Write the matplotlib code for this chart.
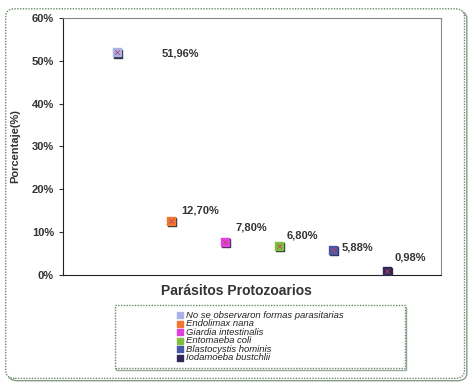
import matplotlib
matplotlib.use("Agg")
import matplotlib.pyplot as plt
from matplotlib.patches import FancyBboxPatch, Rectangle
from matplotlib.ticker import FuncFormatter

plt.rcParams["font.family"] = ["Liberation Sans", "DejaVu Sans"]

categories = ["No se observaron formas parasitarias", "Endolimax nana", "Giardia intestinalis",
              "Entomaeba coli", "Blastocystis hominis", "Iodamoeba bustchlii"]
values = [51.96, 12.70, 7.80, 6.80, 5.88, 0.98]
labels = ["51,96%", "12,70%", "7,80%", "6,80%", "5,88%", "0,98%"]
colors = ["#aab0e8", "#f07830", "#e040e0", "#80c040", "#4858a8", "#302858"]
yticks = [0, 10, 20, 30, 40, 50, 60]
# label offsets in pixels (x to left edge, y up)
label_offsets = [(45, -1), (10, 10), (11, 14), (8, 10), (9, 2), (8, 13)]

fig = plt.figure(figsize=(4.73, 3.83), dpi=100)
# outer frame with shadow
fig.patches.append(FancyBboxPatch((0.017, 0.006), 0.97, 0.965,
                                  boxstyle="round,pad=0,rounding_size=0.02",
                                  transform=fig.transFigure, fill=False, edgecolor="#8a9a8a",
                                  linewidth=1.0, zorder=-2))
fig.patches.append(FancyBboxPatch((0.012, 0.012), 0.97, 0.965,
                                  boxstyle="round,pad=0,rounding_size=0.02",
                                  transform=fig.transFigure, facecolor="white",
                                  edgecolor="#6a8a6a", linestyle=(0, (1, 1)), linewidth=1.0,
                                  zorder=-1))

ax = fig.add_axes([0.133, 0.282, 0.799, 0.671])
ax.set_facecolor("none")
for i, (v, c, lab) in enumerate(zip(values, colors, labels)):
    x = i + 1
    ax.scatter([x + 0.025], [v - 0.3], marker="s", s=30, color="#303040", zorder=2)
    ax.scatter([x], [v], marker="s", s=30, color=c, zorder=3, label=categories[i])
    ax.scatter([x], [v], marker="x", s=10, color="#c04060", linewidths=0.6, zorder=4)
    dx, dy = label_offsets[i]
    ax.annotate(lab, (x, v), xytext=(dx, dy), textcoords="offset pixels",
                fontsize=8, fontweight="bold", color="#333333", ha="left", va="center")

ax.set_xlim(0, 7)
ax.set_ylim(0, 60)
ax.set_yticks(yticks)
ax.yaxis.set_major_formatter(FuncFormatter(lambda v, p: f"{int(v)}%"))
ax.set_xticks([])
ax.tick_params(axis="y", labelsize=8, length=3, width=0.8, colors="#333333", labelcolor="#333333")
for lab in ax.get_yticklabels():
    lab.set_fontweight("bold")
ax.spines["left"].set_color("#222222")
ax.spines["bottom"].set_color("#222222")
ax.spines["top"].set_color("#888888")
ax.spines["right"].set_color("#888888")
ax.set_ylabel("Porcentaje(%)", fontsize=8, fontweight="bold", color="#333333")
ax.yaxis.set_label_coords(-0.112, 0.5)
ax.set_xlabel("Parásitos Protozoarios", fontsize=10, fontweight="bold", color="#333333")
ax.xaxis.set_label_coords(0.458, -0.035)
ax.xaxis.label.set_va("top")

# legend frame with shadow
fig.patches.append(Rectangle((0.246, 0.034), 0.613, 0.164, transform=fig.transFigure,
                             facecolor="none", edgecolor="#9aaa9a", linewidth=1.0))
fig.patches.append(Rectangle((0.243, 0.039), 0.613, 0.164, transform=fig.transFigure,
                             facecolor="white", edgecolor="#6a8a6a", linestyle=(0, (1, 1)),
                             linewidth=1.0))

handles, labs = ax.get_legend_handles_labels()
leg = fig.legend(handles, labs, loc="center", bbox_to_anchor=(0.55, 0.121),
                 frameon=False, prop={"style": "italic", "size": 6.8}, handlelength=0.6,
                 handletextpad=0.3, borderpad=0.0, labelspacing=-0.05, markerscale=0.8)
for t in leg.get_texts():
    t.set_color("#222222")

fig.savefig("out.png", dpi=100)
